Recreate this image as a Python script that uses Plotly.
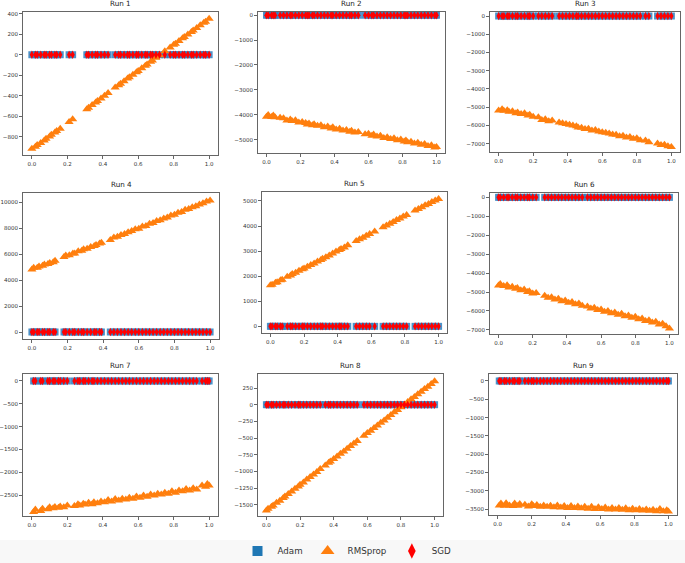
import plotly.graph_objects as go

# ---------------- data ----------------
run1_x = [0.00,0.02,0.03,0.05,0.07,0.08,0.10,0.11,0.13,0.14,
          0.16,0.21,0.23,0.31,0.32,0.34,0.36,0.37,0.39,0.41,
          0.43,0.47,0.49,0.50,0.52,0.54,0.55,0.57,0.59,0.60,
          0.62,0.64,0.65,0.67,0.68,0.70,0.72,0.75,0.78,0.80,
          0.81,0.83,0.85,0.86,0.88,0.90,0.91,0.93,0.95,0.97,
          0.98,1.00]
run1_rmsprop = [-915,-895,-878,-860,-835,-818,-795,-780,-758,-742,
                -720,-655,-628,-530,-515,-490,-465,-450,-425,-400,
                -372,-320,-296,-283,-258,-232,-220,-195,-170,-158,
                -132,-106,-94,-68,-55,-30,-5,35,70,96,
                108,134,160,172,198,222,236,260,286,312,
                322,350]
run1_adam = [0,0,0,0,0,0,0,0,0,0, 0,0,0,0,0,0,0,0,0,0, 0,0,0,0,0,0,0,0,0,0,
             0,0,0,0,0,0,0,0,0,0, 0,0,0,0,0,0,0,0,0,0, 0,0]
run1_sgd = [0,0,0,0,0,0,0,0,0,0, 0,0,0,0,0,0,0,0,0,0, 0,0,0,0,0,0,0,0,0,0,
            0,0,0,0,0,0,0,0,0,0, 0,0,0,0,0,0,0,0,0,0, 0,0]

run2_x = [0.00,0.01,0.03,0.04,0.05,0.08,0.10,0.12,0.14,0.15,
          0.17,0.19,0.21,0.23,0.24,0.25,0.27,0.28,0.30,0.32,
          0.34,0.36,0.38,0.39,0.41,0.43,0.45,0.47,0.49,0.50,
          0.52,0.54,0.58,0.60,0.62,0.63,0.65,0.67,0.69,0.71,
          0.73,0.75,0.77,0.79,0.81,0.82,0.83,0.85,0.87,0.89,
          0.91,0.93,0.95,0.97,0.99,1.00]
run2_rmsprop = [-4080,-4010,-4090,-4030,-4100,-4120,-4140,-4230,-4190,-4250,
                -4220,-4310,-4290,-4330,-4390,-4350,-4420,-4380,-4440,-4420,
                -4500,-4470,-4550,-4500,-4590,-4560,-4640,-4620,-4690,-4650,
                -4720,-4700,-4790,-4770,-4850,-4800,-4880,-4850,-4940,-4910,
                -4980,-4950,-5030,-5000,-5080,-5040,-5110,-5090,-5160,-5130,
                -5210,-5180,-5260,-5230,-5320,-5300]
run2_adam = [0,0,0,0,0,0,0,0,0,0, 0,0,0,0,0,0,0,0,0,0, 0,0,0,0,0,0,0,0,0,0,
             0,0,0,0,0,0,0,0,0,0, 0,0,0,0,0,0,0,0,0,0, 0,0,0,0,0,0]
run2_sgd = [0,0,0,0,0,0,0,0,0,0, 0,0,0,0,0,0,0,0,0,0, 0,0,0,0,0,0,0,0,0,0,
            0,0,0,0,0,0,0,0,0,0, 0,0,0,0,0,0,0,0,0,0, 0,0,0,0,0,0]

run3_x = [0.00,0.02,0.03,0.05,0.06,0.08,0.10,0.11,0.13,0.15,
          0.17,0.18,0.20,0.23,0.25,0.27,0.29,0.31,0.35,0.37,
          0.39,0.41,0.43,0.45,0.46,0.48,0.50,0.52,0.54,0.56,
          0.58,0.60,0.62,0.64,0.66,0.68,0.70,0.72,0.74,0.76,
          0.78,0.80,0.82,0.85,0.87,0.92,0.94,0.96,0.98,1.00]
run3_rmsprop = [-5180,-5120,-5200,-5170,-5250,-5220,-5330,-5290,-5380,-5340,
                -5460,-5410,-5530,-5560,-5700,-5660,-5770,-5730,-5840,-5880,
                -5920,-5970,-6010,-6050,-6110,-6130,-6200,-6190,-6280,-6260,
                -6330,-6370,-6410,-6440,-6500,-6520,-6590,-6570,-6660,-6640,
                -6730,-6700,-6810,-6830,-6920,-6990,-7080,-7060,-7150,-7190]
run3_adam = [0,0,0,0,0,0,0,0,0,0, 0,0,0,0,0,0,0,0,0,0, 0,0,0,0,0,0,0,0,0,0,
             0,0,0,0,0,0,0,0,0,0, 0,0,0,0,0,0,0,0,0,0]
run3_sgd = [0,0,0,0,0,0,0,0,0,0, 0,0,0,0,0,0,0,0,0,0, 0,0,0,0,0,0,0,0,0,0,
            0,0,0,0,0,0,0,0,0,0, 0,0,0,0,0,0,0,0,0,0]

run4_x = [0.00,0.01,0.03,0.04,0.06,0.07,0.09,0.10,0.12,0.13,
          0.18,0.19,0.21,0.23,0.24,0.26,0.28,0.29,0.31,0.33,
          0.35,0.36,0.38,0.39,0.44,0.46,0.48,0.50,0.52,0.54,
          0.56,0.58,0.60,0.62,0.64,0.66,0.68,0.70,0.72,0.74,
          0.76,0.78,0.80,0.82,0.84,0.86,0.88,0.90,0.92,0.94,
          0.96,0.98,1.00]
run4_rmsprop = [4820,4960,4950,5060,5100,5200,5240,5330,5380,5500,
                5780,5900,5920,6050,6060,6220,6270,6380,6420,6560,
                6640,6700,6820,6880,7100,7280,7350,7480,7550,7700,
                7780,7920,7960,8130,8180,8350,8400,8560,8620,8760,
                8840,8980,9050,9200,9250,9420,9480,9620,9700,9830,
                9920,10060,10150]
run4_adam = [0,0,0,0,0,0,0,0,0,0, 0,0,0,0,0,0,0,0,0,0, 0,0,0,0,0,0,0,0,0,0,
             0,0,0,0,0,0,0,0,0,0, 0,0,0,0,0,0,0,0,0,0, 0,0,0]
run4_sgd = [0,0,0,0,0,0,0,0,0,0, 0,0,0,0,0,0,0,0,0,0, 0,0,0,0,0,0,0,0,0,0,
            0,0,0,0,0,0,0,0,0,0, 0,0,0,0,0,0,0,0,0,0, 0,0,0]

run5_x = [0.00,0.01,0.03,0.04,0.06,0.07,0.10,0.12,0.13,0.15,
          0.17,0.19,0.20,0.22,0.24,0.26,0.28,0.30,0.31,0.33,
          0.35,0.37,0.39,0.41,0.42,0.44,0.46,0.51,0.53,0.55,
          0.57,0.59,0.62,0.67,0.69,0.71,0.73,0.75,0.77,0.79,
          0.81,0.86,0.88,0.90,0.92,0.94,0.96,0.98,1.00]
run5_rmsprop = [1640,1660,1740,1760,1840,1860,1980,2030,2090,2140,
                2220,2280,2310,2380,2450,2510,2590,2650,2700,2760,
                2830,2900,2980,3040,3080,3140,3230,3400,3470,3530,
                3610,3680,3780,3950,4020,4090,4160,4240,4300,4380,
                4440,4620,4680,4750,4830,4880,4960,5020,5080]
run5_adam = [0,0,0,0,0,0,0,0,0,0, 0,0,0,0,0,0,0,0,0,0, 0,0,0,0,0,0,0,0,0,0,
             0,0,0,0,0,0,0,0,0,0, 0,0,0,0,0,0,0,0,0]
run5_sgd = [0,0,0,0,0,0,0,0,0,0, 0,0,0,0,0,0,0,0,0,0, 0,0,0,0,0,0,0,0,0,0,
            0,0,0,0,0,0,0,0,0,0, 0,0,0,0,0,0,0,0,0]

run6_x = [0.00,0.01,0.03,0.05,0.06,0.08,0.10,0.11,0.13,0.15,
          0.17,0.18,0.20,0.22,0.27,0.29,0.31,0.33,0.35,0.37,
          0.39,0.41,0.43,0.45,0.47,0.49,0.52,0.54,0.56,0.58,
          0.60,0.62,0.64,0.66,0.68,0.70,0.72,0.74,0.76,0.78,
          0.80,0.82,0.84,0.86,0.88,0.90,0.92,0.94,0.96,0.98,
          1.00]
run6_rmsprop = [-4650,-4570,-4680,-4640,-4760,-4720,-4830,-4790,-4910,-4870,
                -5000,-4960,-5080,-5050,-5200,-5300,-5280,-5390,-5360,-5480,
                -5450,-5560,-5520,-5640,-5600,-5720,-5760,-5870,-5830,-5950,
                -5920,-6040,-6000,-6120,-6080,-6200,-6150,-6280,-6240,-6360,
                -6310,-6440,-6400,-6530,-6490,-6610,-6570,-6710,-6680,-6800,
                -6920]
run6_adam = [0,0,0,0,0,0,0,0,0,0, 0,0,0,0,0,0,0,0,0,0, 0,0,0,0,0,0,0,0,0,0,
             0,0,0,0,0,0,0,0,0,0, 0,0,0,0,0,0,0,0,0,0, 0]
run6_sgd = [0,0,0,0,0,0,0,0,0,0, 0,0,0,0,0,0,0,0,0,0, 0,0,0,0,0,0,0,0,0,0,
            0,0,0,0,0,0,0,0,0,0, 0,0,0,0,0,0,0,0,0,0, 0]

run7_x = [0.01,0.02,0.05,0.06,0.09,0.10,0.12,0.13,0.15,0.16,
          0.18,0.20,0.24,0.26,0.27,0.29,0.30,0.32,0.34,0.35,
          0.37,0.39,0.41,0.43,0.45,0.47,0.49,0.51,0.53,0.55,
          0.57,0.59,0.61,0.63,0.65,0.67,0.69,0.71,0.73,0.75,
          0.77,0.79,0.81,0.83,0.85,0.87,0.89,0.91,0.93,0.96,
          0.98,0.99,1.00]
run7_rmsprop = [-2870,-2820,-2850,-2800,-2810,-2770,-2790,-2760,-2780,-2750,
                -2770,-2730,-2740,-2700,-2730,-2690,-2710,-2670,-2700,-2660,
                -2680,-2640,-2660,-2610,-2640,-2590,-2620,-2580,-2600,-2560,
                -2580,-2530,-2560,-2510,-2540,-2490,-2510,-2470,-2490,-2450,
                -2470,-2420,-2450,-2400,-2420,-2370,-2400,-2350,-2380,-2290,
                -2320,-2260,-2290]
run7_adam = [0,0,0,0,0,0,0,0,0,0, 0,0,0,0,0,0,0,0,0,0, 0,0,0,0,0,0,0,0,0,0,
             0,0,0,0,0,0,0,0,0,0, 0,0,0,0,0,0,0,0,0,0, 0,0,0]
run7_sgd = [0,0,0,0,0,0,0,0,0,0, 0,0,0,0,0,0,0,0,0,0, 0,0,0,0,0,0,0,0,0,0,
            0,0,0,0,0,0,0,0,0,0, 0,0,0,0,0,0,0,0,0,0, 0,0,0]

run8_x = [0.00,0.01,0.03,0.04,0.06,0.08,0.10,0.11,0.13,0.15,
          0.17,0.19,0.20,0.22,0.24,0.26,0.28,0.30,0.32,0.35,
          0.37,0.38,0.40,0.42,0.44,0.46,0.48,0.50,0.52,0.54,
          0.58,0.60,0.62,0.64,0.66,0.68,0.70,0.72,0.74,0.76,
          0.78,0.80,0.82,0.84,0.86,0.88,0.90,0.92,0.94,0.96,
          0.98,1.00]
run8_rmsprop = [-1585,-1560,-1530,-1510,-1470,-1440,-1400,-1375,-1340,-1300,
                -1260,-1225,-1200,-1165,-1120,-1085,-1045,-1010,-965,-910,
                -870,-850,-815,-775,-735,-700,-660,-620,-580,-545,
                -465,-425,-390,-350,-310,-270,-235,-195,-155,-115,
                -80,-40,0,40,80,115,155,195,235,270,
                310,350]
run8_adam = [0,0,0,0,0,0,0,0,0,0, 0,0,0,0,0,0,0,0,0,0, 0,0,0,0,0,0,0,0,0,0,
             0,0,0,0,0,0,0,0,0,0, 0,0,0,0,0,0,0,0,0,0, 0,0]
run8_sgd = [0,0,0,0,0,0,0,0,0,0, 0,0,0,0,0,0,0,0,0,0, 0,0,0,0,0,0,0,0,0,0,
            0,0,0,0,0,0,0,0,0,0, 0,0,0,0,0,0,0,0,0,0, 0,0]

run9_x = [0.01,0.02,0.04,0.05,0.07,0.09,0.10,0.12,0.13,0.16,
          0.18,0.20,0.21,0.23,0.25,0.27,0.29,0.31,0.33,0.35,
          0.37,0.39,0.41,0.43,0.45,0.47,0.49,0.51,0.53,0.55,
          0.57,0.59,0.61,0.63,0.65,0.67,0.69,0.71,0.73,0.75,
          0.77,0.79,0.81,0.83,0.85,0.87,0.89,0.91,0.93,0.95,
          0.97,0.99,1.00]
run9_rmsprop = [-3400,-3350,-3410,-3340,-3400,-3420,-3350,-3410,-3360,-3380,
                -3430,-3370,-3420,-3390,-3440,-3400,-3440,-3410,-3450,-3400,
                -3460,-3420,-3470,-3420,-3470,-3430,-3480,-3440,-3490,-3440,
                -3500,-3450,-3500,-3460,-3510,-3470,-3510,-3470,-3520,-3480,
                -3530,-3490,-3530,-3500,-3540,-3510,-3550,-3520,-3560,-3500,
                -3560,-3530,-3570]
run9_adam = [0,0,0,0,0,0,0,0,0,0, 0,0,0,0,0,0,0,0,0,0, 0,0,0,0,0,0,0,0,0,0,
             0,0,0,0,0,0,0,0,0,0, 0,0,0,0,0,0,0,0,0,0, 0,0,0]
run9_sgd = [0,0,0,0,0,0,0,0,0,0, 0,0,0,0,0,0,0,0,0,0, 0,0,0,0,0,0,0,0,0,0,
            0,0,0,0,0,0,0,0,0,0, 0,0,0,0,0,0,0,0,0,0, 0,0,0]

titles = ["Run 1", "Run 2", "Run 3", "Run 4", "Run 5", "Run 6", "Run 7", "Run 8", "Run 9"]
x_ticks = [0.0, 0.2, 0.4, 0.6, 0.8, 1.0]
y_ticks = [
    [-800, -600, -400, -200, 0, 200, 400],
    [-5000, -4000, -3000, -2000, -1000, 0],
    [-7000, -6000, -5000, -4000, -3000, -2000, -1000, 0],
    [0, 2000, 4000, 6000, 8000, 10000],
    [0, 1000, 2000, 3000, 4000, 5000],
    [-7000, -6000, -5000, -4000, -3000, -2000, -1000, 0],
    [-2500, -2000, -1500, -1000, -500, 0],
    [-1500, -1250, -1000, -750, -500, -250, 0, 250],
    [-3500, -3000, -2500, -2000, -1500, -1000, -500, 0],
]

runs = [
    (run1_x, run1_adam, run1_rmsprop, run1_sgd),
    (run2_x, run2_adam, run2_rmsprop, run2_sgd),
    (run3_x, run3_adam, run3_rmsprop, run3_sgd),
    (run4_x, run4_adam, run4_rmsprop, run4_sgd),
    (run5_x, run5_adam, run5_rmsprop, run5_sgd),
    (run6_x, run6_adam, run6_rmsprop, run6_sgd),
    (run7_x, run7_adam, run7_rmsprop, run7_sgd),
    (run8_x, run8_adam, run8_rmsprop, run8_sgd),
    (run9_x, run9_adam, run9_rmsprop, run9_sgd),
]

# ---------------- layout geometry (pixels) ----------------
W, H = 685, 563
boxes = [  # left, right, top, bottom
    (23, 218, 12, 155), (258, 445, 12, 153), (490, 680, 12, 152),
    (23, 219, 193, 339), (262, 447, 192, 333), (490, 678, 193, 334),
    (23, 218, 374, 516), (258, 443, 374, 516), (489, 677, 374, 515),
]
y_ranges = [
    [-976, 416], [-5540, 130], [-7460, 220],
    [-540, 10720], [-265, 5357], [-7215, 230],
    [-2960, 153], [-1668, 460], [-3663, 191],
]

ADAM_C = "#2b7fc0"
RMS_C = "#ff7f0e"
SGD_C = "#ff0000"
FONT = "DejaVu Sans"


def fmt(v):
    return ("\u2212" if v < 0 else "") + str(abs(v))


fig = go.Figure()
layout = {}
annotations = []
for i, (x, adam, rms, sgd) in enumerate(runs):
    sfx = "" if i == 0 else str(i + 1)
    xa, ya = "x" + sfx, "y" + sfx
    n = len(x)
    fig.add_trace(go.Scatter(x=x[:len(adam)], y=adam[:n], mode="markers", name="Adam",
                             marker=dict(symbol="square", size=7, color=ADAM_C, opacity=0.85,
                                         line=dict(width=0)),
                             xaxis=xa, yaxis=ya, showlegend=False))
    fig.add_trace(go.Scatter(x=x[:len(rms)], y=rms[:n], mode="markers", name="RMSprop",
                             marker=dict(symbol="triangle-up", size=8, color=RMS_C,
                                         line=dict(width=0)),
                             xaxis=xa, yaxis=ya, showlegend=False))
    fig.add_trace(go.Scatter(x=x[:len(sgd)], y=sgd[:n], mode="markers", name="SGD",
                             marker=dict(symbol="diamond-tall", size=6, color=SGD_C,
                                         line=dict(width=0)),
                             xaxis=xa, yaxis=ya, showlegend=False))
    l, r, t, b = boxes[i]
    axis_common = dict(showline=True, mirror=True, linecolor="#666", linewidth=1,
                       ticks="outside", ticklen=3, tickcolor="#666",
                       tickfont=dict(size=5.5, color="#333", family=FONT),
                       showgrid=False, zeroline=False, automargin=False)
    layout["xaxis" + sfx] = dict(domain=[l / W, r / W], range=[-0.05, 1.05], anchor=ya,
                                 tickvals=x_ticks, ticktext=["%.1f" % v for v in x_ticks],
                                 **axis_common)
    layout["yaxis" + sfx] = dict(domain=[1 - b / H, 1 - t / H], range=y_ranges[i], anchor=xa,
                                 tickvals=y_ticks[i], ticktext=[fmt(v) for v in y_ticks[i]],
                                 **axis_common)
    annotations.append(dict(text=titles[i], x=(l + r) / 2 / W, y=1 - (t - 2) / H,
                            xref="paper", yref="paper", xanchor="center", yanchor="bottom",
                            showarrow=False, font=dict(size=7.2, color="#222", family=FONT)))

# legend entries
fig.add_trace(go.Scatter(x=[None], y=[None], mode="markers", name="Adam",
                         marker=dict(symbol="square", size=10, color="#1f77b4")))
fig.add_trace(go.Scatter(x=[None], y=[None], mode="markers", name="RMSprop",
                         marker=dict(symbol="triangle-up", size=12, color=RMS_C)))
fig.add_trace(go.Scatter(x=[None], y=[None], mode="markers", name="SGD",
                         marker=dict(symbol="diamond-tall", size=11, color=SGD_C)))

fig.update_layout(
    width=W, height=H,
    margin=dict(l=0, r=0, t=0, b=0, autoexpand=False),
    paper_bgcolor="white", plot_bgcolor="white",
    annotations=annotations,
    legend=dict(orientation="h", x=347 / W, xanchor="center", y=1 - 551 / H, yanchor="middle",
                font=dict(size=8.7, color="#333", family=FONT),
                bgcolor="rgba(0,0,0,0)", itemwidth=30),
    shapes=[dict(type="rect", xref="paper", yref="paper", x0=0, x1=1, y0=0, y1=1 - 540 / H,
                 fillcolor="#f8f8f8", line=dict(width=0), layer="below")],
    **layout,
)

fig.write_html("out.html", config={"displayModeBar": False},
               post_script="document.body.style.margin='0';document.body.style.padding='0';")
